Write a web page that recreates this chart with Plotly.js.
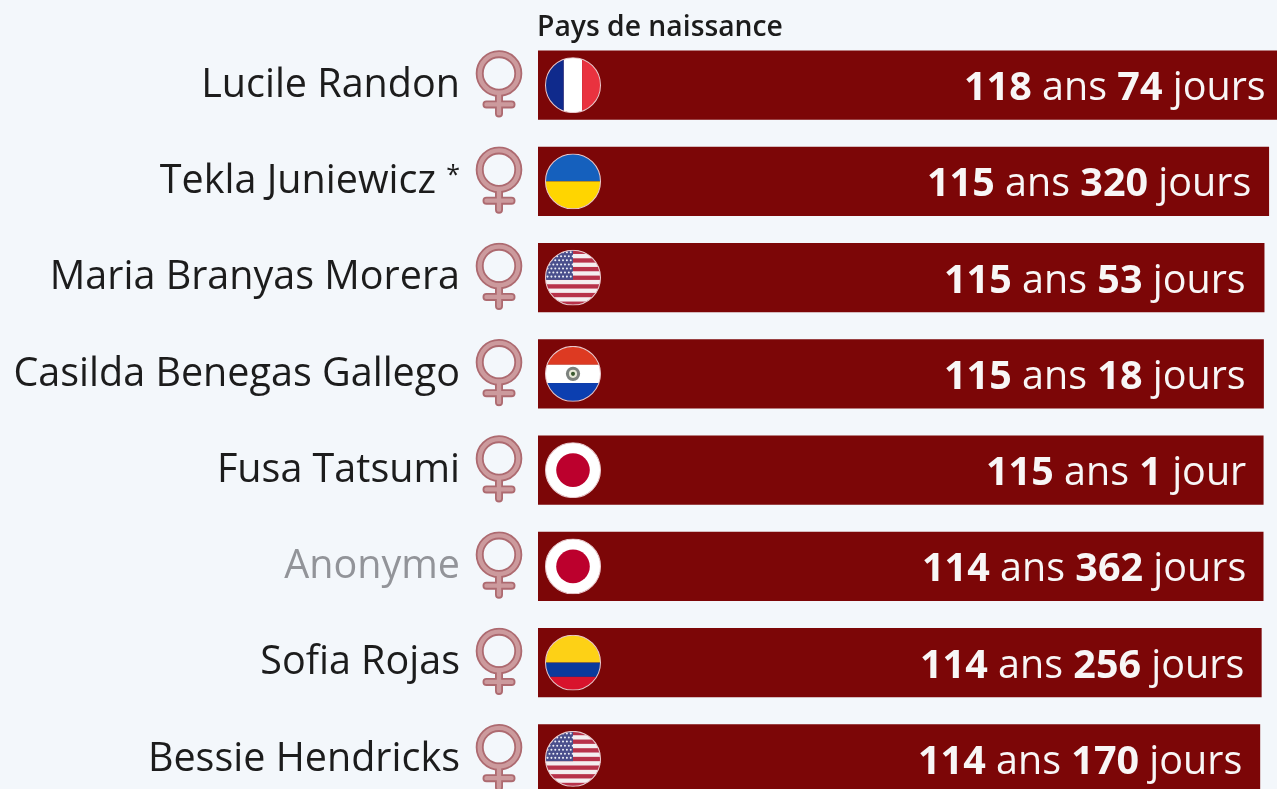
<!DOCTYPE html>
<html>
<head>
<meta charset="utf-8">
<script src="https://cdn.plot.ly/plotly-3.0.1.min.js"></script>
<style>
html,body{margin:0;padding:0;width:1277px;height:789px;overflow:hidden;background:#f3f7fb}
#chart{width:1285px;height:808px;filter:blur(0.6px)}
</style>
</head>
<body>
<div id="chart"></div>
<script>
var names = ["Lucile Randon","Tekla Juniewicz","Maria Branyas Morera","Casilda Benegas Gallego","Fusa Tatsumi","Anonyme","Sofia Rojas","Bessie Hendricks"];
var nameLabels = ["Lucile Randon","Tekla Juniewicz <span style=\"font-size:25px;baseline-shift:10px\">*</span>","Maria Branyas Morera","Casilda Benegas Gallego","Fusa Tatsumi","<span style=\"color:#929499\">Anonyme</span>","Sofia Rojas","Bessie Hendricks"];
var years = [118,115,115,115,115,114,114,114];
var days = [74,320,53,18,1,362,256,170];
var flags = ["fr","ua","us","py","jp","jp","co","us"];
var header = "Pays de naissance";

var ages = years.map(function(y,i){return y+days[i]/365;});
var labels = years.map(function(y,i){
  return "<b>"+y+"</b> ans <b>"+days[i]+"</b> "+(days[i]===1?"jour":"jours");
});

function circ(inner){
  return '<svg xmlns="http://www.w3.org/2000/svg" width="110" height="110" viewBox="0 0 110 110"><defs><clipPath id="c"><circle cx="55" cy="55" r="54"/></clipPath></defs><g clip-path="url(#c)">'+inner+'</g><circle cx="55" cy="55" r="54" fill="none" stroke="#e8c8cc" stroke-width="2"/></svg>';
}
function rect(x,y,w,h,c){return '<rect x="'+x+'" y="'+y+'" width="'+w+'" height="'+h+'" fill="'+c+'"/>';}
function usFlag(){
  var s=rect(0,0,110,110,'#f4eef0');
  for(var i=0;i<7;i++) s+=rect(0,i*17,110,8.5,'#b8324a');
  s+=rect(0,0,55,59.5,'#4a4f8c');
  for(var r=0;r<7;r++) for(var c=0;c<7;c++){
    s+='<circle cx="'+(5+c*7.6+(r%2?3.8:0))+'" cy="'+(5+r*8)+'" r="2" fill="#eef0f8"/>';
  }
  return s;
}
var flagSvg = {
  fr: rect(0,0,37,110,'#0f2a8c')+rect(37,0,36,110,'#ffffff')+rect(73,0,37,110,'#e9323f'),
  ua: rect(0,0,110,55,'#1560bd')+rect(0,55,110,55,'#ffd500'),
  us: usFlag(),
  py: rect(0,0,110,37,'#dd3a22')+rect(0,37,110,36,'#ffffff')+rect(0,73,110,37,'#0c3fb0')+
      '<circle cx="55" cy="55" r="14" fill="#7d827e"/><circle cx="55" cy="55" r="8" fill="#e6e8d8"/><circle cx="55" cy="55" r="4" fill="#39592f"/>',
  jp: rect(0,0,110,110,'#ffffff')+'<circle cx="55" cy="55" r="33" fill="#bc002d"/>',
  co: rect(0,0,110,55,'#fdd116')+rect(0,55,110,28,'#0a3a9c')+rect(0,83,110,27,'#d8132c')
};
var venus = '<svg xmlns="http://www.w3.org/2000/svg" width="96" height="136" viewBox="0 0 48 68">'+
  '<g fill="none" stroke-linecap="round">'+
  '<g stroke="#ad6a70" stroke-width="8"><circle cx="24" cy="23.5" r="19.3"/><path d="M24 43V63.5M11.5 54.5H36.5"/></g>'+
  '<g stroke="#cc9a9d" stroke-width="4.4"><circle cx="24" cy="23.5" r="19.3"/><path d="M24 43V63.5M11.5 54.5H36.5"/></g>'+
  '</g></svg>';
function uri(s){return 'data:image/svg+xml;charset=utf-8,'+encodeURIComponent(s);}

var W=747, H=770.4, n=names.length;
var images=[];
names.forEach(function(nm,i){
  images.push({source:uri(venus),xref:'paper',yref:'paper',x:(499-538)/W,y:1-(i+0.5)/n+1.2/H,sizex:48/W,sizey:68/H,
    xanchor:'center',yanchor:'middle',sizing:'stretch',layer:'above'});
  images.push({source:uri(circ(flagSvg[flags[i]])),xref:'paper',yref:'paper',x:(573-538)/W,y:1-(i+0.5)/n,sizex:56/W,sizey:56/H,
    xanchor:'center',yanchor:'middle',sizing:'stretch',layer:'above'});
});
var annotations=names.map(function(nm,i){
  return {xref:'x',yref:'y',x:ages[i],y:nm,xanchor:'right',yanchor:'middle',xshift:-16,yshift:0,showarrow:false,
    text:labels[i],font:{family:'"Open Sans",sans-serif',size:39.5,color:'#f8f6f6'}};
});
annotations.push({xref:'paper',yref:'paper',x:0,y:1,xanchor:'left',yanchor:'bottom',xshift:-3,yshift:-9,showarrow:false,
  text:header,font:{family:'"Open Sans",sans-serif',size:28.3,color:'#1c1c1c',weight:600}});

Plotly.newPlot('chart',[{
  type:'bar',orientation:'h',x:ages,y:names,
  marker:{color:'#7c0607',line:{width:0}},
  width:0.722,hoverinfo:'skip'
}],{
  width:1285,height:808,
  margin:{l:538,r:0,t:37,b:0.6,pad:0},
  paper_bgcolor:'#f3f7fb',plot_bgcolor:'#f3f7fb',
  showlegend:false,
  xaxis:{range:[0,118.4],showgrid:false,zeroline:false,showticklabels:false,ticks:'',fixedrange:true},
  yaxis:{type:'category',categoryorder:'array',categoryarray:names,range:[n-0.5,-0.5],
    tickmode:'array',tickvals:names,ticktext:nameLabels,showgrid:false,zeroline:false,showline:false,ticks:'',
    ticklabelstandoff:77,ticklabelshift:2,tickfont:{family:'"Open Sans",sans-serif',size:39.5,color:'#1c1c1c'},fixedrange:true},
  images:images,annotations:annotations
},{displayModeBar:false,staticPlot:true});
</script>
</body>
</html>
